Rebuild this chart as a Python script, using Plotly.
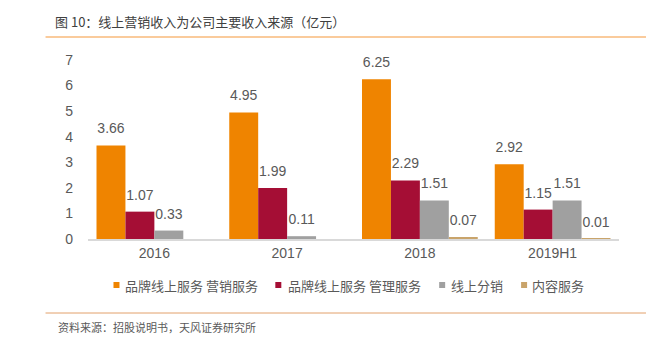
import plotly.graph_objects as go

categories = ["2016", "2017", "2018", "2019H1"]
series_names = ["品牌线上服务 营销服务", "品牌线上服务 管理服务", "线上分销", "内容服务"]
marketing = [3.66, 4.95, 6.25, 2.92]
management = [1.07, 1.99, 2.29, 1.15]
distribution = [0.33, 0.11, 1.51, 1.51]
content = [None, None, 0.07, 0.01]
colors = ["#EF8400", "#A50E35", "#A0A0A0", "#C9A46B"]
y_ticks = [0, 1, 2, 3, 4, 5, 6, 7]

W, H = 646, 343
L, R, T, B = 87.5, 27, 60, 104
pw, ph = W - L - R, H - T - B

def px_x(px):
    return (px - L) / pw

def px_y(py):
    return (H - B - py) / ph

num_font = "Arial, Liberation Sans, sans-serif"
cjk_font = "Noto Sans CJK SC, sans-serif"
txt_color = "#595959"

fig = go.Figure()
all_series = [marketing, management, distribution, content]
for i, (name, vals, col) in enumerate(zip(series_names, all_series, colors)):
    fig.add_trace(go.Bar(
        x=categories, y=vals, name=name, marker_color=col, marker_line_width=0,
        offsetgroup=str(i), showlegend=False, hoverinfo="x+y+name",
    ))
for i, (name, vals) in enumerate(zip(series_names, all_series)):
    fig.add_trace(go.Scatter(
        x=categories, y=vals, name=name, mode="markers+text", offsetgroup=str(i),
        marker=dict(size=12, opacity=0),
        text=[("" if v is None else f"{v:.2f}") for v in vals],
        textposition="top center", cliponaxis=False, showlegend=False, hoverinfo="skip",
        textfont=dict(family=num_font, size=14, color=txt_color),
    ))

# legend (drawn manually to match the compact reference spacing)
legend_square_px = [113, 275, 439, 521]
legend_text_px = [123, 286, 449, 530]
legend_y_px = 285
shapes = [
    dict(type="line", xref="paper", yref="paper", x0=px_x(45), x1=px_x(646),
         y0=px_y(37), y1=px_y(37), line=dict(color="#FACB9C", width=2)),
    dict(type="line", xref="paper", yref="paper", x0=px_x(45), x1=px_x(646),
         y0=px_y(313), y1=px_y(313), line=dict(color="#E2A06A", width=1)),
]
annotations = [
    dict(text="资料来源：招股说明书，天风证券研究所", xref="paper", yref="paper",
         x=px_x(55), y=px_y(327), xanchor="left", yanchor="middle", showarrow=False,
         font=dict(family=cjk_font, size=11, color=txt_color)),
]
for name, col, sx, tx in zip(series_names, colors, legend_square_px, legend_text_px):
    shapes.append(dict(type="rect", xref="paper", yref="paper",
                       x0=px_x(sx), x1=px_x(sx + 6), y0=px_y(legend_y_px + 3), y1=px_y(legend_y_px - 3),
                       fillcolor=col, line=dict(width=0)))
    annotations.append(dict(text=name, xref="paper", yref="paper", x=px_x(tx), y=px_y(legend_y_px),
                            xanchor="left", yanchor="middle", showarrow=False,
                            font=dict(family=cjk_font, size=13, color=txt_color)))

fig.update_layout(
    width=W, height=H,
    margin=dict(l=L, r=R, t=T, b=B),
    paper_bgcolor="white", plot_bgcolor="white",
    barmode="group", bargap=0.128, bargroupgap=0,
    scattermode="group", scattergap=0.128,
    showlegend=False,
    title=dict(text="图 10：线上营销收入为公司主要收入来源（亿元）",
               font=dict(family=cjk_font, size=13, color="#404040"),
               x=55 / W, xanchor="left", xref="container",
               y=1 - 22 / H, yanchor="middle", yref="container"),
    xaxis=dict(showline=True, linecolor="#D9D9D9", linewidth=1.5, showgrid=False,
               ticks="", tickfont=dict(family=num_font, size=14, color=txt_color)),
    yaxis=dict(range=[0, 7], tickvals=y_ticks, showgrid=False, zeroline=False, showline=False,
               ticks="", ticklabelstandoff=14,
               tickfont=dict(family=num_font, size=14, color=txt_color)),
    shapes=shapes,
    annotations=annotations,
)

fig.write_html("out.html")
